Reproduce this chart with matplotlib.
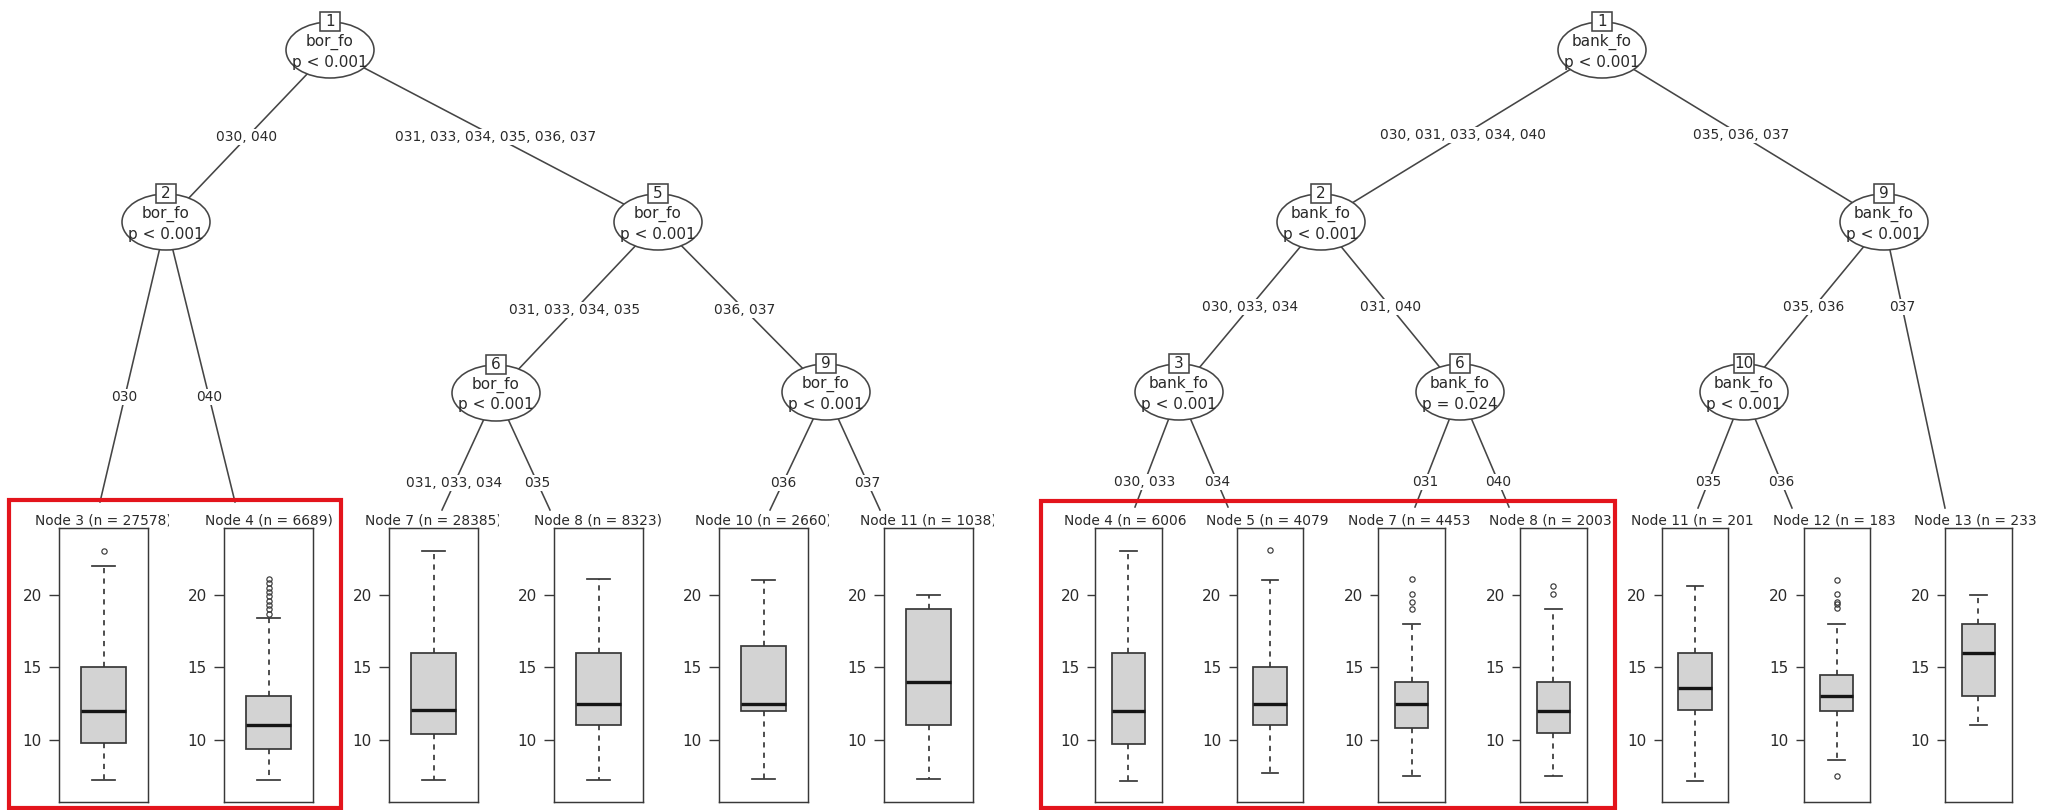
import matplotlib
matplotlib.use("Agg")
import matplotlib.pyplot as plt
from matplotlib.patches import Ellipse, Rectangle
from matplotlib.transforms import Bbox

W, H = 2055, 810

# ---------------- left tree (bor_fo) ----------------
left_inner = [1, 2, 5, 6, 9]
left_var = ["bor_fo", "bor_fo", "bor_fo", "bor_fo", "bor_fo"]
left_p = ["p < 0.001", "p < 0.001", "p < 0.001", "p < 0.001", "p < 0.001"]
left_edges = [(1, 2), (1, 5), (2, 3), (2, 4), (5, 6), (5, 9),
              (6, 7), (6, 8), (9, 10), (9, 11)]
left_edge_labels = ["030, 040", "031, 033, 034, 035, 036, 037", "030", "040",
                    "031, 033, 034, 035", "036, 037", "031, 033, 034", "035",
                    "036", "037"]
left_leaf = [3, 4, 7, 8, 10, 11]
left_n = [27578, 6689, 28385, 8323, 2660, 1038]
left_med = [12, 11, 12.1, 12.5, 12.5, 14]
left_q1 = [9.8, 9.4, 10.4, 11, 12, 11]
left_q3 = [15, 13, 16, 16, 16.5, 19]
left_lo = [7.25, 7.25, 7.25, 7.25, 7.3, 7.3]
left_hi = [22, 18.4, 23, 21.1, 21, 20]
left_fliers = [[23], [18.7, 19.0, 19.3, 19.6, 19.9, 20.2, 20.5, 20.8, 21.1],
               [], [], [], []]

# ---------------- right tree (bank_fo) ----------------
right_inner = [1, 2, 3, 6, 9, 10]
right_var = ["bank_fo"] * 6
right_p = ["p < 0.001", "p < 0.001", "p < 0.001", "p = 0.024", "p < 0.001", "p < 0.001"]
right_edges = [(1, 2), (1, 9), (2, 3), (2, 6), (3, 4), (3, 5), (6, 7), (6, 8),
               (9, 10), (9, 13), (10, 11), (10, 12)]
right_edge_labels = ["030, 031, 033, 034, 040", "035, 036, 037", "030, 033, 034",
                     "031, 040", "030, 033", "034", "031", "040", "035, 036",
                     "037", "035", "036"]
right_leaf = [4, 5, 7, 8, 11, 12, 13]
right_n = [6006, 4079, 4453, 2003, 201, 183, 233]
right_med = [12, 12.5, 12.5, 12, 13.6, 13, 16]
right_q1 = [9.7, 11, 10.8, 10.5, 12.1, 12, 13]
right_q3 = [16, 15, 14, 14, 16, 14.5, 18]
right_lo = [7.2, 7.7, 7.5, 7.5, 7.2, 8.6, 11]
right_hi = [23, 21, 18, 19, 20.6, 18, 20]
right_fliers = [[], [23.1], [19.0, 19.5, 20.1, 21.1], [20.05, 20.6], [],
                [7.5, 19.1, 19.4, 19.5, 20.05, 21.0], []]

# ---------------- layout (pixels) ----------------
left_pos = {1: (330, 50), 2: (166, 222), 5: (658, 222), 6: (496, 393), 9: (826, 392),
            3: (100, 502), 4: (235, 502), 7: (442, 510), 8: (550, 510),
            10: (770, 510), 11: (880, 510)}
left_label_y = {(1, 2): 137, (1, 5): 137, (2, 3): 397, (2, 4): 397, (5, 6): 310,
                (5, 9): 310, (6, 7): 483, (6, 8): 483, (9, 10): 483, (9, 11): 483}
right_pos = {1: (1602, 50), 2: (1321, 222), 9: (1884, 222), 3: (1179, 392),
             6: (1460, 392), 10: (1744, 392), 4: (1135, 507), 5: (1228, 507),
             7: (1415, 507), 8: (1509, 507), 11: (1698, 508), 12: (1792, 508),
             13: (1945, 508)}
right_label_y = {(1, 2): 135, (1, 9): 135, (2, 3): 307, (2, 6): 307, (9, 10): 307,
                 (9, 13): 307, (3, 4): 482, (3, 5): 482, (6, 7): 482, (6, 8): 482,
                 (10, 11): 482, (10, 12): 482}

EDGE = "#454545"
TXT = "#2a2a2a"
FS = 9.9
NFS = 11
PANEL_TOP, PANEL_BOT = 528, 802
YLIM = (5.72, 24.62)

fig = plt.figure(figsize=(W / 100, H / 100), dpi=100, facecolor="white")
ax = fig.add_axes([0, 0, 1, 1])
ax.set_xlim(0, W)
ax.set_ylim(H, 0)
ax.set_axis_off()


def draw_tree(inner, var, pval, edges, labels, pos, label_y):
    for (a, b), lab in zip(edges, labels):
        (x0, y0), (x1, y1) = pos[a], pos[b]
        ax.plot([x0, x1], [y0, y1], color=EDGE, lw=1.15, zorder=1)
        ly = label_y[(a, b)]
        lx = x0 + (x1 - x0) * (ly - y0) / (y1 - y0)
        ax.text(lx, ly, lab, ha="center", va="center", fontsize=FS, color=TXT,
                zorder=3, bbox=dict(fc="white", ec="none", pad=1.0))
    for nid, v, p in zip(inner, var, pval):
        x, y = pos[nid]
        ax.add_patch(Ellipse((x, y), 88, 56, fc="white", ec=EDGE, lw=1.15, zorder=4))
        ax.text(x, y - 8, v, ha="center", va="center", fontsize=NFS, color=TXT, zorder=5)
        ax.text(x, y + 12, p, ha="center", va="center", fontsize=NFS, color=TXT, zorder=5)
        ax.add_patch(Rectangle((x - 10, y - 38), 20, 19, fc="white", ec=EDGE,
                               lw=1.15, zorder=6))
        ax.text(x, y - 28.5, str(nid), ha="center", va="center", fontsize=NFS,
                color=TXT, zorder=7)


def draw_panels(leaf, n, med, q1, q3, lo, hi, fliers, x_first, dx, fw, ticklen, cut):
    for i, nid in enumerate(leaf):
        left = x_first + i * dx
        cx = left + fw / 2
        t = ax.text(cx, 521, f"Node {nid} (n = {n[i]})", ha="center", va="center",
                    fontsize=FS, color=TXT, zorder=5)
        # panel viewport cuts long titles on the right
        t.set_clip_path(None)
        t.set_clip_box(Bbox.from_extents(left - 45, H - 534, left + fw + cut, H - 506))
        t.set_clip_on(True)
        pax = fig.add_axes([left / W, 1 - PANEL_BOT / H, fw / W,
                            (PANEL_BOT - PANEL_TOP) / H])
        pax.set_facecolor("none")
        stats = [dict(med=med[i], q1=q1[i], q3=q3[i], whislo=lo[i], whishi=hi[i],
                      fliers=fliers[i])]
        pax.bxp(stats, positions=[1], widths=0.5, capwidths=0.25, patch_artist=True,
                boxprops=dict(facecolor="#d3d3d3", edgecolor="#383838", lw=1.25),
                medianprops=dict(color="#151515", lw=2.4),
                whiskerprops=dict(color="#383838", lw=1.25, linestyle=(0, (3, 3))),
                capprops=dict(color="#383838", lw=1.25),
                flierprops=dict(marker="o", markersize=3.8, markerfacecolor="none",
                                markeredgecolor="#383838", markeredgewidth=0.85))
        pax.set_xlim(0.5, 1.5)
        pax.set_ylim(*YLIM)
        pax.set_xticks([])
        pax.set_yticks([10, 15, 20])
        pax.tick_params(axis="y", length=ticklen, width=1.0, color="#383838",
                        labelsize=11, labelcolor=TXT, pad=5)
        for s in pax.spines.values():
            s.set_color("#383838")
            s.set_linewidth(1.05)


draw_tree(left_inner, left_var, left_p, left_edges, left_edge_labels, left_pos, left_label_y)
draw_tree(right_inner, right_var, right_p, right_edges, right_edge_labels, right_pos,
          right_label_y)
draw_panels(left_leaf, left_n, left_med, left_q1, left_q3, left_lo, left_hi, left_fliers,
            59, 165, 89, 7.5, 21)
draw_panels(right_leaf, right_n, right_med, right_q1, right_q3, right_lo, right_hi,
            right_fliers, 1095, 141.7, 66.5, 6, 25)

# red highlight frames
ax.add_patch(Rectangle((9, 500), 332, 308, fill=False, ec="#e3141c", lw=3, zorder=8))
ax.add_patch(Rectangle((1041, 501), 574, 307, fill=False, ec="#e3141c", lw=3, zorder=8))

fig.savefig("out.png", dpi=100, facecolor="white")
